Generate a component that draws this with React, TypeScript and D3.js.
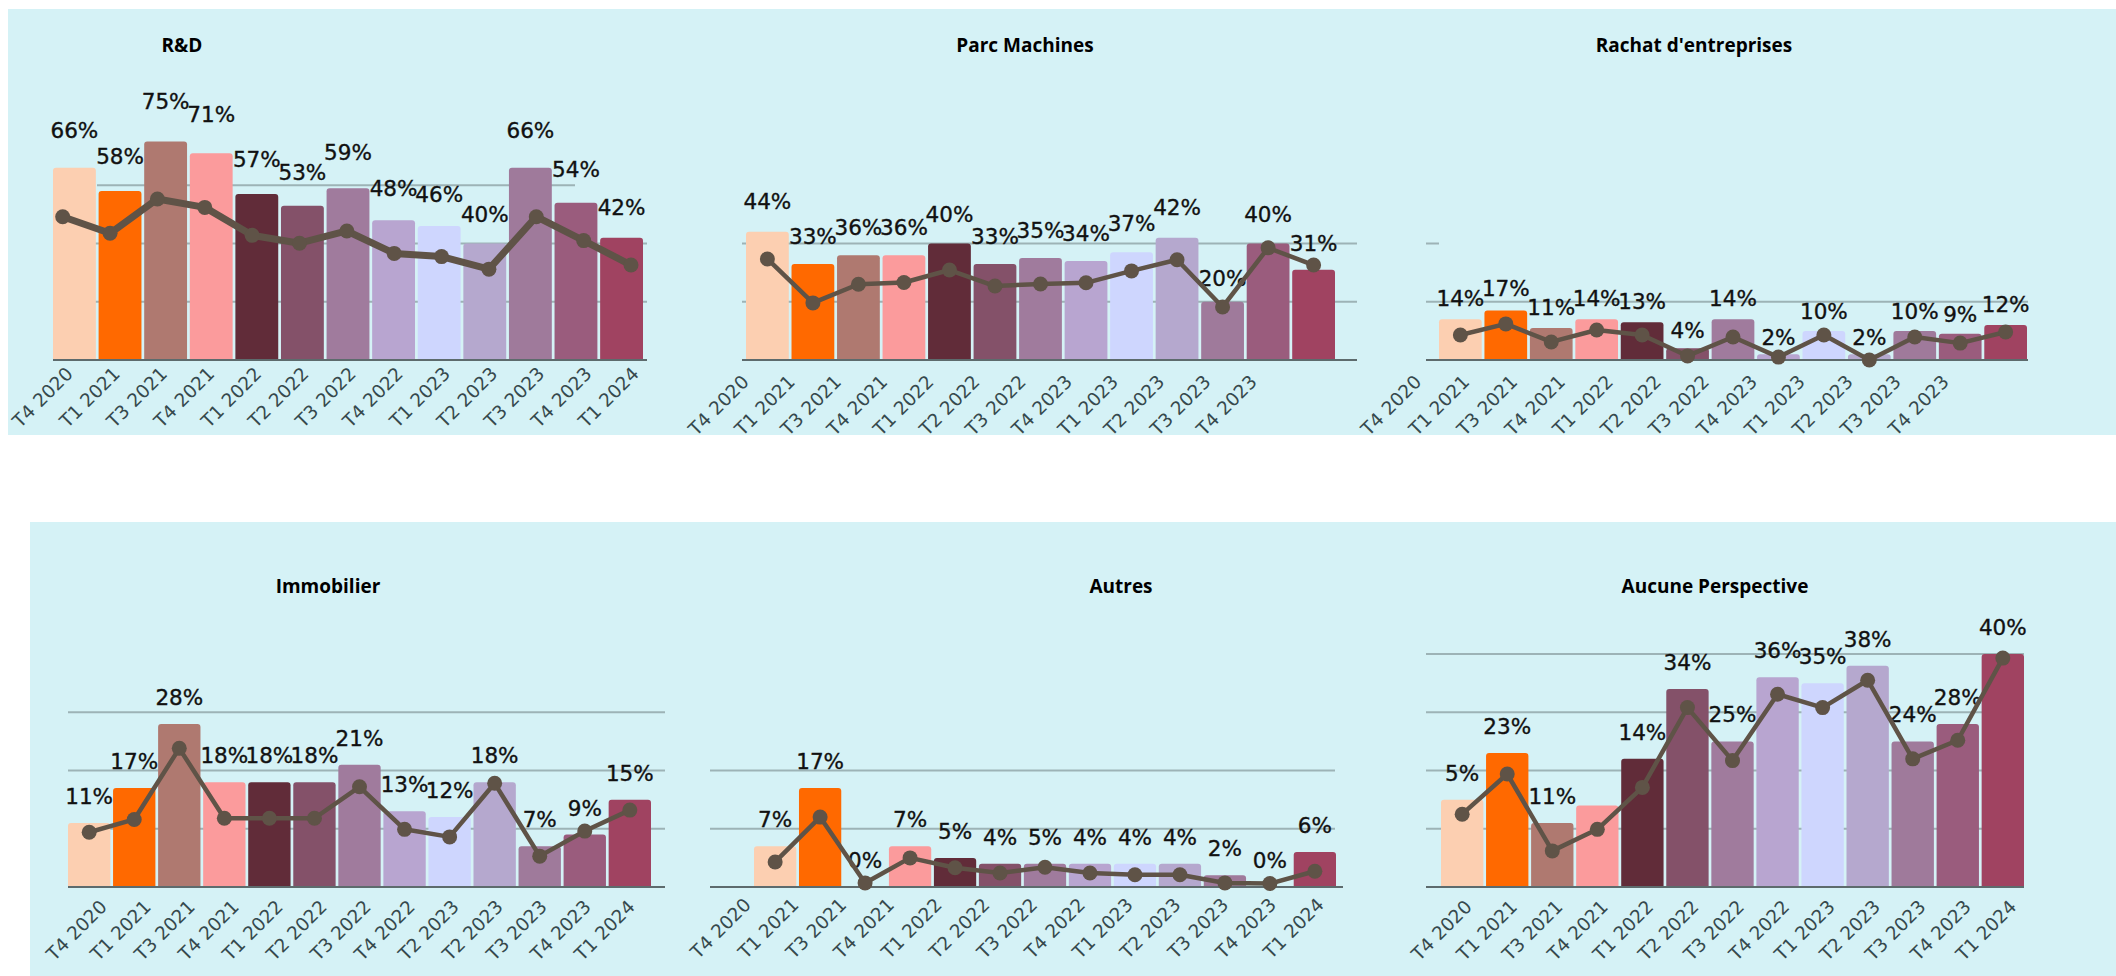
import React from "react";
import * as d3 from "d3";

// ---------- DATA ----------
const categories = ["T4 2020", "T1 2021", "T3 2021", "T4 2021", "T1 2022", "T2 2022", "T3 2022", "T4 2022", "T1 2023", "T2 2023", "T3 2023", "T4 2023", "T1 2024"];
const ticksFull = categories;
const ticksShifted = ["T4 2020", "T1 2021", "T3 2021", "T4 2021", "T1 2022", "T2 2022", "T3 2022", "T4 2023", "T1 2023", "T2 2023", "T3 2023", "T4 2023"];
const ticksImmobilier = ["T4 2020", "T1 2021", "T3 2021", "T4 2021", "T1 2022", "T2 2022", "T3 2022", "T4 2022", "T2 2023", "T2 2023", "T3 2023", "T4 2023", "T1 2024"];

const barColors = ["#FCCFB1", "#FF6900", "#AF7970", "#FB9B9C", "#612C39", "#845169", "#A07B9D", "#B8A5D0", "#CED6FE", "#B5A8CE", "#9F7A9B", "#9A5C7D", "#A04361"];

const rdBars = [66, 58, 75, 71, 57, 53, 59, 48, 46, 40, 66, 54, 42];
const rdLabels = [66, 58, 75, 71, 57, 53, 59, 48, 46, 40, 66, 54, 42];
const rdLine = [49.2, 43.5, 55.3, 52.4, 42.8, 40.1, 44.3, 36.6, 35.5, 31.2, 49.2, 41.0, 32.6];

const machinesBars = [44, 33, 36, 36, 40, 33, 35, 34, 37, 42, 20, 40, 31];
const machinesLabels = [44, 33, 36, 36, 40, 33, 35, 34, 37, 42, 20, 40, 31];
const machinesLine = [34.7, 19.6, 26.0, 26.6, 30.9, 25.4, 26.1, 26.5, 30.6, 34.4, 18.2, 38.5, 32.6];

const rachatBars = [14, 17, 11, 14, 13, 4, 14, 2, 10, 2, 10, 9, 12];
const rachatLabels = [14, 17, 11, 14, 13, 4, 14, 2, 10, 2, 10, 9, 12];
const rachatLine = [8.6, 12.4, 6.2, 10.3, 8.6, 1.4, 7.9, 1.0, 8.6, 0, 7.9, 5.8, 9.6];

const immoBars = [11, 17, 28, 18, 18, 18, 21, 13, 12, 18, 7, 9, 15];
const immoLabels = [11, 17, 28, 18, 18, 18, 21, 13, 12, 18, 7, 9, 15];
const immoLine = [9.4, 11.6, 23.8, 11.8, 11.8, 11.8, 17.2, 9.9, 8.6, 17.8, 5.3, 9.6, 13.2];

const autresBars = [7, 17, 0, 7, 5, 4, 4, 4, 4, 4, 2, 0, 6];
const autresLabels = [7, 17, 0, 7, 5, 4, 5, 4, 4, 4, 2, 0, 6];
const autresLine = [4.3, 12.0, 0.7, 5.0, 3.3, 2.4, 3.4, 2.4, 2.1, 2.1, 0.7, 0.6, 2.7];

const aucuneBars = [15, 23, 11, 14, 22, 34, 25, 36, 35, 38, 25, 28, 40];
const aucuneLabels: (number | null)[] = [5, 23, 11, null, 14, 34, 25, 36, 35, 38, 24, 28, 40];
const aucuneLine = [12.5, 19.4, 6.2, 9.9, 17.1, 30.8, 21.7, 33.1, 30.8, 35.5, 22.0, 25.2, 39.3];

const topGrid = [20, 40, 60];
const bottomGrid = [10, 20, 30, 40];

// ---------- LAYOUT ----------
const W = 2116;
const H = 976;
const BG = "#D5F2F6";
const LINE_COLOR = "#5F5347";
const TICK_SHIFT = -6;

type Row = { base: number; top: number; max: number; labelRange: [number, number] };
const topRow: Row = { base: 360, top: 127, max: 80, labelRange: [351, 92.6] };
const bottomRow: Row = { base: 887, top: 654, max: 40, labelRange: [868, 635] };

type Panel = {
  title: string;
  titleX: number;
  titleY: number;
  row: Row;
  bars: number[];
  labels: (number | null)[];
  line: number[];
  ticks: string[];
  band: [number, number];
  lineRange: [number, number] | null;
  tickRange: [number, number];
  tickY: number;
  grid: { v: number; x0: number; x1: number }[];
  axis: [number, number];
  lineWidth: number;
};

const panels: Panel[] = [
  {
    title: "R&D", titleX: 182, titleY: 52, row: topRow,
    bars: rdBars, labels: rdLabels, line: rdLine, ticks: ticksFull,
    band: [53, 643], lineRange: [62.7, 631], tickRange: [80, 646], tickY: 375,
    grid: [{ v: topGrid[0], x0: 53, x1: 647 }, { v: topGrid[1], x0: 53, x1: 647 }, { v: topGrid[2], x0: 97, x1: 575 }],
    axis: [53, 647], lineWidth: 7,
  },
  {
    title: "Parc Machines", titleX: 1025, titleY: 52, row: topRow,
    bars: machinesBars, labels: machinesLabels, line: machinesLine, ticks: ticksShifted,
    band: [746, 1335], lineRange: null, tickRange: [756, 1264], tickY: 383,
    grid: [{ v: topGrid[0], x0: 742, x1: 1357 }, { v: topGrid[1], x0: 742, x1: 1357 }],
    axis: [742, 1357], lineWidth: 4.5,
  },
  {
    title: "Rachat d'entreprises", titleX: 1694, titleY: 52, row: topRow,
    bars: rachatBars, labels: rachatLabels, line: rachatLine, ticks: ticksShifted,
    band: [1439, 2027], lineRange: null, tickRange: [1428.6, 1956], tickY: 383,
    grid: [{ v: topGrid[0], x0: 1426, x1: 2028 }, { v: topGrid[1], x0: 1426, x1: 1439 }],
    axis: [1426, 2028], lineWidth: 4.5,
  },
  {
    title: "Immobilier", titleX: 328, titleY: 593, row: bottomRow,
    bars: immoBars, labels: immoLabels, line: immoLine, ticks: ticksImmobilier,
    band: [68, 651], lineRange: null, tickRange: [114, 642], tickY: 908,
    grid: [bottomGrid[0], bottomGrid[1], bottomGrid[2]].map((v) => ({ v, x0: 68, x1: 665 })),
    axis: [68, 665], lineWidth: 4.5,
  },
  {
    title: "Autres", titleX: 1121, titleY: 593, row: bottomRow,
    bars: autresBars, labels: autresLabels, line: autresLine, ticks: ticksFull,
    band: [754, 1336], lineRange: null, tickRange: [758, 1331], tickY: 906,
    grid: [bottomGrid[0], bottomGrid[1]].map((v) => ({ v, x0: 710, x1: 1335 })),
    axis: [710, 1343], lineWidth: 4.5,
  },
  {
    title: "Aucune Perspective", titleX: 1715, titleY: 593, row: bottomRow,
    bars: aucuneBars, labels: aucuneLabels, line: aucuneLine, ticks: ticksFull,
    band: [1441, 2024], lineRange: null, tickRange: [1479, 2023.5], tickY: 908,
    grid: bottomGrid.map((v) => ({ v, x0: 1426, x1: 2024 })),
    axis: [1426, 2024], lineWidth: 4.5,
  },
];

function barPath(x: number, y: number, w: number, h: number, r: number) {
  if (h <= 0) return "";
  const rr = Math.min(r, h / 2, w / 2);
  return `M${x},${y + h}V${y + rr}Q${x},${y} ${x + rr},${y}H${x + w - rr}Q${x + w},${y} ${x + w},${y + rr}V${y + h}Z`;
}

function PanelChart({ p }: { p: Panel }) {
  const x = d3.scaleBand<string>().domain(categories).range(p.band).paddingInner(0.06).paddingOuter(0);
  const y = d3.scaleLinear().domain([0, p.row.max]).range([p.row.base, p.row.top]);
  const yLabel = d3.scaleLinear().domain([0, p.row.max]).range(p.row.labelRange);
  const xLine = p.lineRange
    ? d3.scalePoint<string>().domain(categories).range(p.lineRange)
    : null;
  const lx = (c: string) => (xLine ? (xLine(c) as number) : (x(c) as number) + x.bandwidth() / 2);
  const xTick = d3
    .scalePoint<string>()
    .domain(p.ticks.map((t, i) => i + ""))
    .range([p.tickRange[0] + TICK_SHIFT, p.tickRange[1] + TICK_SHIFT]);

  const linePath = d3
    .line<number>()
    .x((_, i) => lx(categories[i]))
    .y((v) => y(v))(p.line) as string;

  return (
    <g>
      {p.grid.map((g, i) => (
        <line key={"g" + i} x1={g.x0} x2={g.x1} y1={y(g.v)} y2={y(g.v)} stroke="#9DB3B6" strokeWidth={2} />
      ))}
      {p.bars.map((v, i) => {
        const c = categories[i];
        const bx = x(c) as number;
        return (
          <path key={"b" + i} d={barPath(bx, y(v), x.bandwidth(), y(0) - y(v), 3)} fill={barColors[i]} />
        );
      })}
      <line x1={p.axis[0]} x2={p.axis[1]} y1={p.row.base} y2={p.row.base} stroke="#5D6B6D" strokeWidth={2} />
      {p.labels.map((v, i) => {
        if (v === null) return null;
        const c = categories[i];
        return (
          <text
            key={"l" + i}
            x={(x(c) as number) + x.bandwidth() / 2}
            y={yLabel(p.bars[i])}
            textAnchor="middle"
            fontFamily="'DejaVu Sans', sans-serif"
            fontSize={21.5}
            fill="#111111"
            stroke="#111111"
            strokeWidth={0.35}
          >
            {Math.round(v) + "%"}
          </text>
        );
      })}
      <path d={linePath} fill="none" stroke={LINE_COLOR} strokeWidth={p.lineWidth} strokeLinejoin="round" />
      {p.line.map((v, i) => (
        <circle key={"m" + i} cx={lx(categories[i])} cy={y(v)} r={7.5} fill={LINE_COLOR} />
      ))}
      {p.ticks.map((t, i) => {
        const tx = xTick(i + "") as number;
        return (
          <text
            key={"t" + i}
            transform={`translate(${tx},${p.tickY}) rotate(-45)`}
            textAnchor="end"
            fontFamily="'DejaVu Sans', sans-serif"
            fontSize={18.5}
            fill="#36494D"
          >
            {t}
          </text>
        );
      })}
      <text
        x={p.titleX}
        y={p.titleY}
        textAnchor="middle"
        fontFamily="'Open Sans', sans-serif"
        fontWeight={700}
        fontSize={19}
        fill="#000000"
      >
        {p.title}
      </text>
    </g>
  );
}

export default function App() {
  return (
    <svg
      width={W}
      height={H}
      viewBox={`0 0 ${W} ${H}`}
      style={{ position: "absolute", left: 0, top: 0, background: "#ffffff" }}
    >
      <rect x={0} y={0} width={W} height={H} fill="#ffffff" />
      <rect x={8} y={9} width={W - 8} height={426} fill={BG} />
      <rect x={30} y={522} width={W - 30} height={H - 522} fill={BG} />
      {panels.map((p, i) => (
        <PanelChart key={i} p={p} />
      ))}
    </svg>
  );
}
